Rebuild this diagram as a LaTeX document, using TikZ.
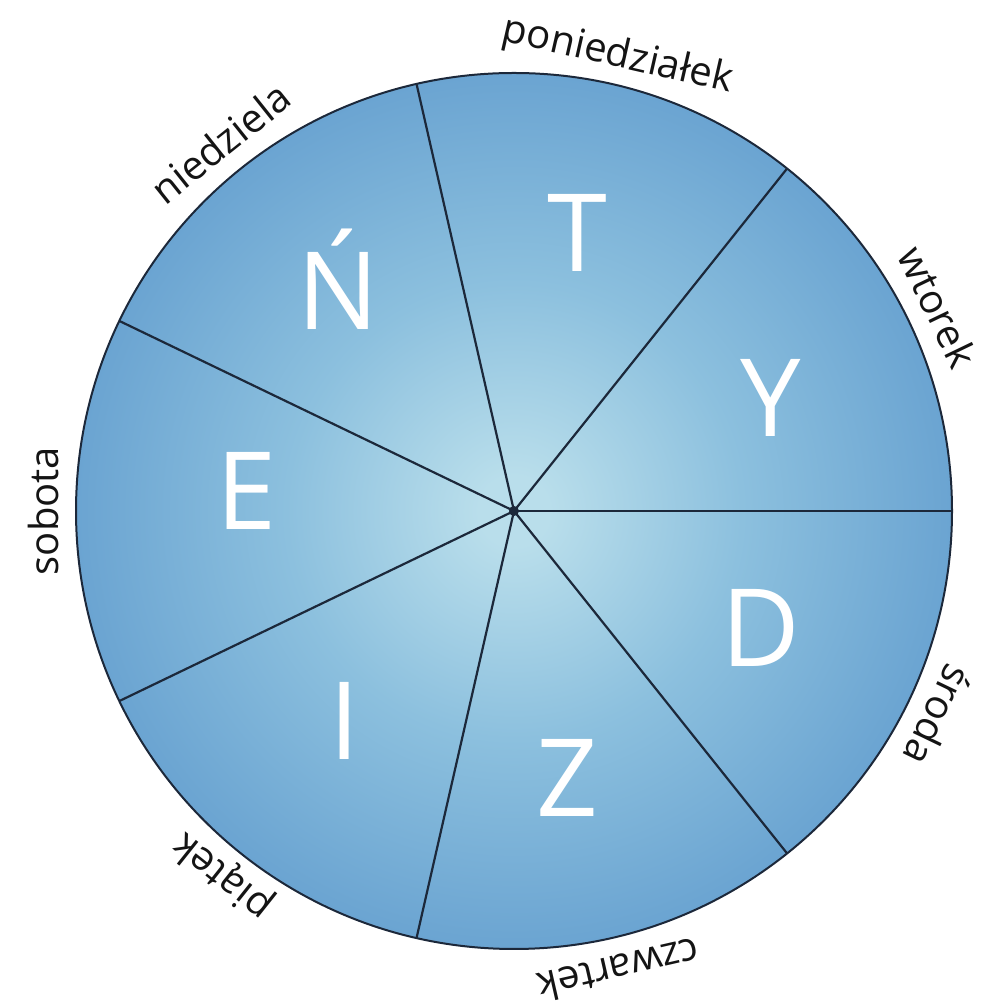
\documentclass[tikz,border=0pt]{standalone}
\usepackage{fontspec}
\setmainfont{Open Sans}
\usetikzlibrary{calc}
\definecolor{cin}{RGB}{185,222,235}
\definecolor{cin2}{RGB}{140,192,222}
\definecolor{cmid}{RGB}{90,150,203}
\definecolor{cout}{RGB}{62,124,188}
\definecolor{lineclr}{RGB}{28,40,58}
\definecolor{txtclr}{RGB}{20,20,20}
\pgfdeclareradialshading{disc}{\pgfpoint{0bp}{0bp}}{color(0bp)=(cin); color(2bp)=(cin); color(13bp)=(cin2); color(31bp)=(cmid); color(50bp)=(cout)}
\begin{document}
\begin{tikzpicture}[x=1pt,y=1pt,
  day/.style={font=\fontsize{40}{48}\selectfont, text=txtclr, anchor=base, inner sep=0pt},
  letter/.style={font=\fontsize{108}{120}\selectfont, text=white, anchor=base, inner sep=0pt},
  spoke/.style={draw=lineclr, line width=2.2pt},
  rim/.style={draw=lineclr, line width=2pt}]
\useasboundingbox (0,0) rectangle (989,1003);
\coordinate (C) at (514,492);
\shade[shading=disc] (C) circle (438);
\foreach \k in {0,...,6}{
  \coordinate (r\k) at ($(C)+({\k*360/7}:438)$);
  \draw[spoke] (C) -- (r\k);
}
\draw[rim] (C) circle (438);
\fill[lineclr] (C) circle (5);
% letters
\foreach \n/\x/\y/\L in {t/577/731/T, y/771/566/Y, d/761/336/D, z/567/186/Z, i/345/243/I, e/247/473/E, n/338/673/Ń}{
  \node[letter] (l\n) at (\x,\y) {\L};
}
% day labels
\foreach \n/\a/\t in {wt/25.714/wtorek, pn/77.143/poniedziałek, nd/128.571/niedziela, so/180/sobota, pt/231.429/piątek, cz/282.857/czwartek, sr/334.286/środa}{
  \node[day, rotate=\a-90] (\n) at ($(C)+(\a:456)$) {\t};
}
\end{tikzpicture}
\end{document}
